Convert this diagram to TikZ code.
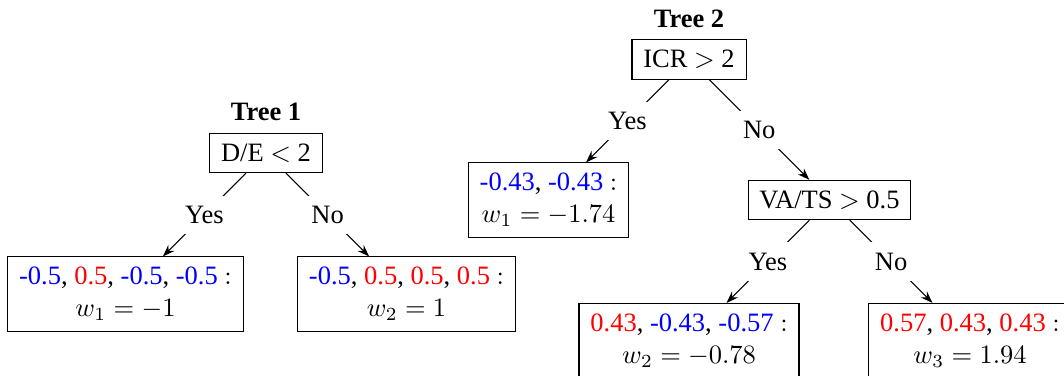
\documentclass[tikz,border=0pt]{standalone}
\usepackage[no-math]{fontspec}
\setmainfont{Liberation Serif}
\usetikzlibrary{arrows.meta}
\newcommand{\nblue}[1]{\textcolor{blue}{#1}}
\newcommand{\nred}[1]{\textcolor{red}{#1}}
\begin{document}
\begin{tikzpicture}[x=0.3774pt,y=-0.3774pt,
  box/.style={draw,line width=0.4pt,inner xsep=4.3pt,inner ysep=3.9pt,align=center},
  lbl/.style={midway,fill=white,inner xsep=4.3pt,inner ysep=3.9pt},
  arr/.style={-{Stealth[length=4.5pt,width=3.2pt]},line width=0.4pt},
  ttl/.style={font=\bfseries,inner sep=0pt,anchor=south}]
\useasboundingbox (0,0) rectangle (1064,376);
% Tree 1
\node[box] (r1) at (266,153) {D/E $<$ 2};
\node[ttl] (t1) at ([yshift=4.3pt]r1.north) {Tree 1};
\node[box] (a1) at (125.5,294) {\nblue{-0.5}, \nred{0.5}, \nblue{-0.5}, \nblue{-0.5} $:$\\ $w_1=-1$};
\node[box] (a2) at (406.5,294) {\nblue{-0.5}, \nred{0.5}, \nred{0.5}, \nred{0.5} $:$\\ $w_2=1$};
\draw[arr] (r1) -- node[lbl]{Yes} (a1);
\draw[arr] (r1) -- node[lbl]{No} (a2);
% Tree 2
\node[box] (r2) at (689,59.5) {ICR $>$ 2};
\node[ttl] (t2) at ([yshift=4.3pt]r2.north) {Tree 2};
\node[box] (b1) at (548.5,200) {\nblue{-0.43}, \nblue{-0.43} $:$\\ $w_1=-1.74$};
\node[box] (r3) at (829.5,200) {VA/TS $>$ 0.5};
\node[box] (b2) at (689,340.5) {\nred{0.43}, \nblue{-0.43}, \nblue{-0.57} $:$\\ $w_2=-0.78$};
\node[box] (b3) at (970,340.5) {\nred{0.57}, \nred{0.43}, \nred{0.43} $:$\\ $w_3=1.94$};
\draw[arr] (r2) -- node[lbl]{Yes} (b1);
\draw[arr] (r2) -- node[lbl]{No} (r3);
\draw[arr] (r3) -- node[lbl]{Yes} (b2);
\draw[arr] (r3) -- node[lbl]{No} (b3);
\end{tikzpicture}
\end{document}
